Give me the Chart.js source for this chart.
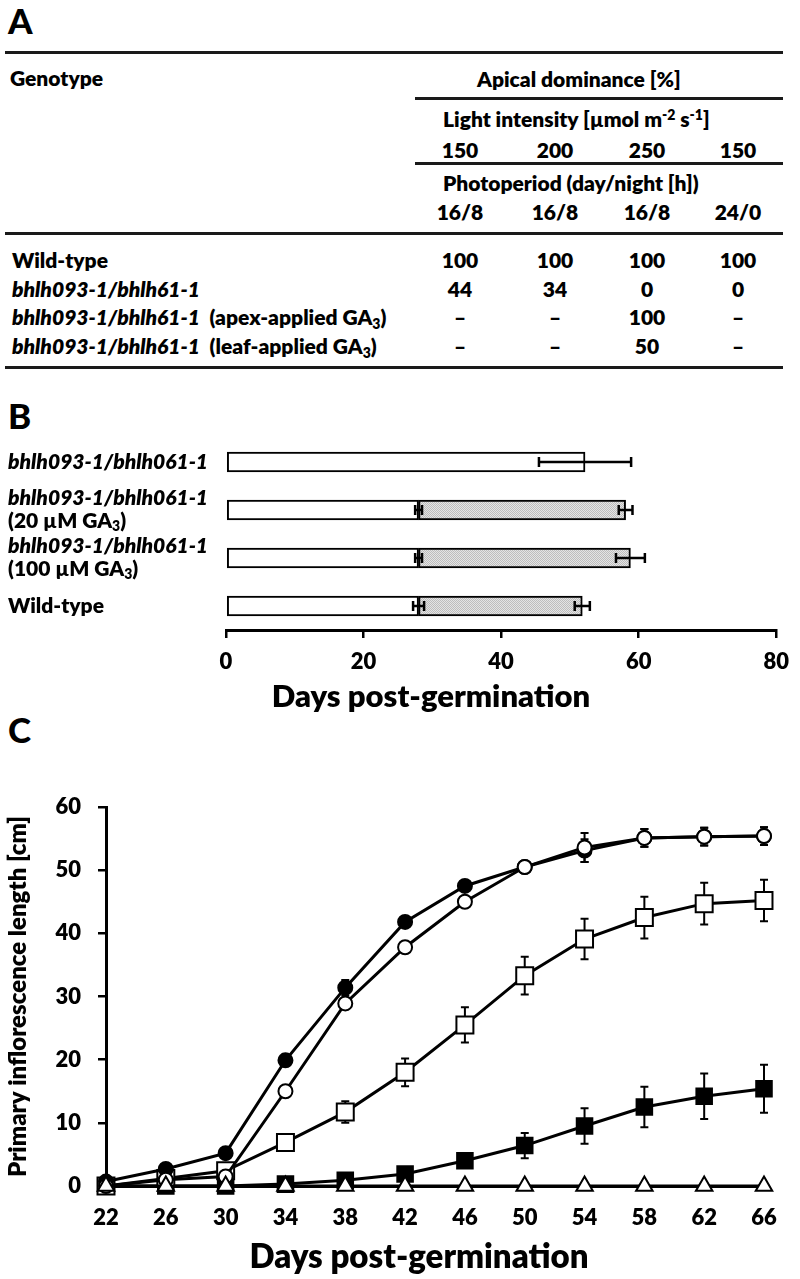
<!DOCTYPE html>
<html>
<head>
<meta charset="utf-8">
<script src="https://cdn.jsdelivr.net/npm/chart.js@4.4.1/dist/chart.umd.min.js"></script>
<style>
  body { margin: 0; background: #fff; }
  #page { position: relative; width: 800px; height: 1279px; overflow: hidden;
          font-family: Lato, "Open Sans", sans-serif; font-weight: 800; color: #000; }
  .t { position: absolute; white-space: nowrap; font-size: 21px; line-height: 24px; }
  .c { text-align: center; width: 100px; }
  .rule { position: absolute; height: 3px; background: #1a1a1a; }
  .panel { position: absolute; left: 8px; font-size: 35px; line-height: 40px; font-weight: 900; }
  canvas { position: absolute; left: 0; }
  sub { font-size: 14px; vertical-align: -4px; line-height: 0; }
  sup { font-size: 14px; vertical-align: 7px; line-height: 0; }
</style>
</head>
<body>
<div id="page">
  <div class="panel" style="top:0px">A</div>
  <div class="panel" style="top:395px">B</div>
  <div class="panel" style="top:709px">C</div>
  <div id="tableA"></div>
  <canvas id="chartB" width="800" height="290" style="top:430px"></canvas>
  <canvas id="chartC" width="800" height="519" style="top:760px"></canvas>
</div>
<script>
// ---- panel A: apical dominance table
const lightIntensity = ['150', '200', '250', '150'];
const photoperiod = ['16/8', '16/8', '16/8', '24/0'];
const genotypesA = ['Wild-type', 'bhlh093-1/bhlh61-1', 'bhlh093-1/bhlh61-1', 'bhlh093-1/bhlh61-1'];
const treatmentsA = ['', '', 'apex-applied', 'leaf-applied'];
const apicalDominance = [
  [100, 100, 100, 100],
  [44, 34, 0, 0],
  [null, null, 100, null],
  [null, null, 50, null]
];

// ---- panel B: developmental phases (days post-germination)
const genotypesB = ['bhlh093-1/bhlh061-1', 'bhlh093-1/bhlh061-1', 'bhlh093-1/bhlh061-1', 'Wild-type'];
const treatmentsB = ['', '20 µM', '100 µM', ''];
const phase1End = [52.2, 28, 28, 28];
const phase1Err = [6.7, 0.5, 0.5, 0.8];
const phase2End = [null, 58.1, 58.8, 51.8];
const phase2Err = [null, 1, 2.1, 1.1];
const ticksB = [0, 20, 40, 60, 80];

// ---- panel C: primary inflorescence length [cm]
const days = [22, 26, 30, 34, 38, 42, 46, 50, 54, 58, 62, 66];
const filledCircle = [0.7, 2.7, 5.2, 19.9, 31.4, 41.8, 47.5, 50.5, 53.1, 55.1, 55.3, 55.4];
const filledCircleErr = [0.2, 0.4, 0.5, 0.9, 1.2, 0.8, 0.7, 0.8, 1.8, 1.4, 1.4, 1.4];
const openCircle = [0, 1, 1.5, 15, 28.9, 37.8, 45, 50.5, 53.6, 55.1, 55.3, 55.4];
const openCircleErr = [0, 0.3, 0.4, 0.8, 0.9, 0.7, 0.8, 0.9, 2.3, 1.4, 1.4, 1.4];
const openSquare = [0, 1.2, 2.4, 6.9, 11.7, 18, 25.5, 33.3, 39.1, 42.5, 44.7, 45.2];
const openSquareErr = [0, 0.3, 0.5, 0.8, 1.7, 2.2, 2.8, 3, 3.2, 3.3, 3.3, 3.3];
const filledSquare = [0, 0, 0, 0.3, 0.9, 1.9, 4, 6.4, 9.5, 12.5, 14.2, 15.4];
const filledSquareErr = [0, 0, 0, 0.2, 0.4, 0.5, 0.9, 2, 2.8, 3.2, 3.6, 3.8];
const openTriangle = [0, 0, 0, 0, 0, 0, 0, 0, 0, 0, 0, 0];

const FONT = 'Lato, "Open Sans", sans-serif';
const W = '800';

// build the table (A)
function buildTable() {
  const box = document.getElementById('tableA');
  const colX = [460, 555, 647, 738];
  let html = '';
  const rule = (y, x1, x2) => html += `<div class="rule" style="top:${y - 1}px;left:${x1}px;width:${x2 - x1}px"></div>`;
  const text = (cy, x, s, cls) => html += `<div class="t ${cls || ''}" style="top:${cy - 12.5}px;left:${x}px">${s}</div>`;
  rule(52, 5, 783); rule(98, 415, 783); rule(163, 415, 783); rule(233, 5, 783); rule(367, 5, 783);
  text(78, 10, 'Genotype');
  text(79, 477, 'Apical dominance [%]');
  text(119, 443, 'Light intensity [µmol m<sup>-2</sup> s<sup>-1</sup>]');
  lightIntensity.forEach((v, i) => text(150, colX[i] - 50, v, 'c'));
  text(183, 443, 'Photoperiod (day/night [h])');
  photoperiod.forEach((v, i) => text(212, colX[i] - 50, v, 'c'));
  const rowY = [260, 289, 317, 346];
  genotypesA.forEach((g, r) => {
    let s = g.startsWith('bhlh') ? `<i>${g}</i>` : g;
    if (treatmentsA[r]) s += `&nbsp; (${treatmentsA[r]} GA<sub>3</sub>)`;
    text(rowY[r], 12, s);
    apicalDominance[r].forEach((v, i) => text(rowY[r], colX[i] - 50, v === null ? '–' : v, 'c'));
  });
  box.innerHTML = html;
}

function stipple() {
  const c = document.createElement('canvas');
  c.width = c.height = 2;
  const g = c.getContext('2d');
  g.fillStyle = '#e4e4e4'; g.fillRect(0, 0, 2, 2);
  g.fillStyle = '#bdbdbd'; g.fillRect(0, 0, 1, 1); g.fillRect(1, 1, 1, 1);
  return g.createPattern(c, 'repeat');
}

function hErr(ctx, x1, x2, y, cap) {
  ctx.beginPath();
  ctx.moveTo(x1, y); ctx.lineTo(x2, y);
  ctx.moveTo(x1, y - cap); ctx.lineTo(x1, y + cap);
  ctx.moveTo(x2, y - cap); ctx.lineTo(x2, y + cap);
  ctx.stroke();
}

// axis title drawn at a fixed centre, like in the original layout
function axisTitle(chart, text, cx, cy, size) {
  const ctx = chart.ctx;
  ctx.save();
  ctx.fillStyle = '#000'; ctx.textAlign = 'center'; ctx.textBaseline = 'middle';
  ctx.font = `${W} ${size}px ${FONT}`;
  ctx.fillText(text, cx, cy);
  ctx.restore();
}

const barExtras = {
  id: 'barExtras',
  afterDatasetsDraw(chart) {
    const ctx = chart.ctx, xs = chart.scales.x, ys = chart.scales.y;
    ctx.save();
    ctx.strokeStyle = '#000'; ctx.lineWidth = 2.5;
    genotypesB.forEach((g, i) => {
      const y = ys.getPixelForValue(i);
      hErr(ctx, xs.getPixelForValue(phase1End[i] - phase1Err[i]), xs.getPixelForValue(phase1End[i] + phase1Err[i]), y, 5);
      if (phase2End[i] !== null)
        hErr(ctx, xs.getPixelForValue(phase2End[i] - phase2Err[i]), xs.getPixelForValue(phase2End[i] + phase2Err[i]), y, 5);
    });
    // row labels, left aligned
    ctx.fillStyle = '#000'; ctx.textBaseline = 'middle'; ctx.textAlign = 'left';
    genotypesB.forEach((g, i) => {
      const y = ys.getPixelForValue(i);
      const it = g.startsWith('bhlh') ? 'italic ' : '';
      ctx.font = `${it}${W} 21px ${FONT}`;
      if (!treatmentsB[i]) { ctx.fillText(g, 8, y); return; }
      ctx.fillText(g, 8, y - 11.5);
      let x = 8;
      const y2 = y + 11.5;
      ctx.font = `${W} 21px ${FONT}`;
      const s1 = `(${treatmentsB[i]} GA`;
      ctx.fillText(s1, x, y2); x += ctx.measureText(s1).width;
      ctx.font = `${W} 14px ${FONT}`;
      ctx.fillText('3', x, y2 + 5); x += ctx.measureText('3').width;
      ctx.font = `${W} 21px ${FONT}`;
      ctx.fillText(')', x, y2);
    });
    ctx.restore();
    axisTitle(chart, 'Days post-germination', 431, 267, 31);
  }
};

const lineErrors = {
  id: 'lineErrors',
  beforeDatasetsDraw(chart) {
    const ctx = chart.ctx, ys = chart.scales.y;
    const errs = [null, openCircleErr, filledCircleErr, openSquareErr, filledSquareErr];
    ctx.save();
    ctx.strokeStyle = '#000'; ctx.lineWidth = 2;
    chart.data.datasets.forEach((ds, d) => {
      if (!errs[d]) return;
      const meta = chart.getDatasetMeta(d);
      meta.data.forEach((pt, i) => {
        const e = errs[d][i];
        if (!e) return;
        const y1 = ys.getPixelForValue(ds.data[i] + e), y2 = ys.getPixelForValue(ds.data[i] - e);
        ctx.beginPath();
        ctx.moveTo(pt.x, y1); ctx.lineTo(pt.x, y2);
        ctx.moveTo(pt.x - 4, y1); ctx.lineTo(pt.x + 4, y1);
        ctx.moveTo(pt.x - 4, y2); ctx.lineTo(pt.x + 4, y2);
        ctx.stroke();
      });
    });
    ctx.restore();
  },
  afterDraw(chart) {
    axisTitle(chart, 'Days post-germination', 419, 497, 33);
  }
};

async function draw() {
  buildTable();
  try {
    await Promise.all([
      document.fonts.load(`${W} 20px Lato`),
      document.fonts.load(`italic ${W} 20px Lato`)
    ]);
  } catch (e) {}

  Chart.defaults.font.family = FONT;
  Chart.defaults.font.weight = W;
  Chart.defaults.color = '#000';

  new Chart(document.getElementById('chartB'), {
    type: 'bar',
    data: {
      labels: genotypesB,
      datasets: [
        {
          data: phase1End.map(v => [0, v]),
          backgroundColor: '#fff', borderColor: '#000', borderWidth: 2,
          borderSkipped: false, barThickness: 20, grouped: false
        },
        {
          data: phase2End.map((v, i) => v === null ? null : [phase1End[i], v]),
          backgroundColor: stipple(), borderColor: '#000', borderWidth: 2,
          borderSkipped: false, barThickness: 20, grouped: false
        }
      ]
    },
    options: {
      indexAxis: 'y', responsive: false, animation: false,
      layout: { padding: { left: 226, right: 14, top: 8, bottom: 0 } },
      plugins: { legend: { display: false }, tooltip: { enabled: false } },
      scales: {
        y: { display: false },
        x: {
          type: 'linear', min: 0, max: 80,
          afterBuildTicks: s => { s.ticks = ticksB.map(v => ({ value: v })); },
          afterFit: s => { s.height = 90; },
          grid: { drawOnChartArea: false, drawTicks: true, tickLength: 8, color: '#000', lineWidth: 2.5 },
          border: { display: true, color: '#000', width: 3 },
          ticks: { font: { size: 22, weight: W }, padding: 11, color: '#000' }
        }
      }
    },
    plugins: [barExtras]
  });

  const common = { borderColor: '#000', borderWidth: 3, pointBorderColor: '#000', pointBorderWidth: 2,
                   clip: false, tension: 0 };
  new Chart(document.getElementById('chartC'), {
    type: 'line',
    data: {
      labels: days,
      datasets: [
        { ...common, data: openTriangle, pointStyle: 'triangle', pointRadius: 9.5, pointBackgroundColor: '#fff' },
        { ...common, data: openCircle, pointStyle: 'circle', pointRadius: 7, pointBackgroundColor: '#fff' },
        { ...common, data: filledCircle, pointStyle: 'circle', pointRadius: 7, pointBackgroundColor: '#000' },
        { ...common, data: openSquare, pointStyle: 'rect', pointRadius: 12, pointBackgroundColor: '#fff' },
        { ...common, data: filledSquare, pointStyle: 'rect', pointRadius: 11, pointBackgroundColor: '#000' }
      ]
    },
    options: {
      responsive: false, animation: false,
      layout: { padding: { left: 0, right: 36, top: 47, bottom: 0 } },
      plugins: { legend: { display: false }, tooltip: { enabled: false } },
      scales: {
        x: {
          type: 'category', offset: false,
          afterFit: s => { s.height = 93; },
          grid: { display: false, drawTicks: false },
          border: { display: true, color: '#000', width: 3 },
          ticks: { font: { size: 22, weight: W }, padding: 19, color: '#000', maxRotation: 0, autoSkip: false }
        },
        y: {
          min: 0, max: 60,
          afterFit: s => { s.width = 106; },
          grid: { drawOnChartArea: false, drawTicks: true, tickLength: 8, color: '#000', lineWidth: 2.5 },
          border: { display: true, color: '#000', width: 3 },
          ticks: { stepSize: 10, font: { size: 22, weight: W }, padding: 17, color: '#000' },
          title: { display: true, text: 'Primary inflorescence length [cm]', font: { size: 24, weight: W },
                   padding: { top: 4, bottom: 0 }, color: '#000' }
        }
      }
    },
    plugins: [lineErrors]
  });
}
draw();
</script>
</body>
</html>
